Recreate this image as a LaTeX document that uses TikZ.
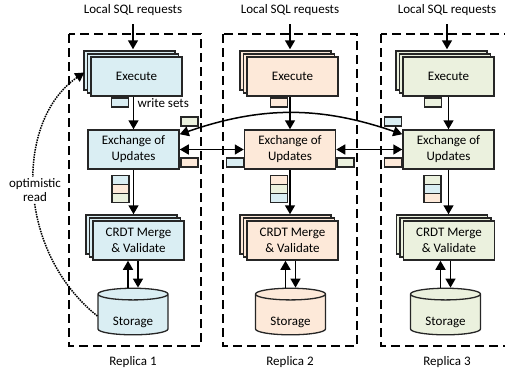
\documentclass[tikz,border=0pt]{standalone}
\usepackage{fontspec}
\setmainfont{Carlito}
\usetikzlibrary{arrows.meta,shapes.geometric,shadows,positioning}

\definecolor{repblue}{HTML}{DAEEF3}
\definecolor{reppeach}{HTML}{FDE9D9}
\definecolor{repgreen}{HTML}{EBF1DE}

\tikzset{
  lbl/.style={font=\fontsize{13}{16}\selectfont},
  box/.style={lbl, draw=black!85, line width=1.5pt, minimum width=91pt, minimum height=39pt, align=center, inner sep=2pt},
  stackbox/.style={box, copy shadow={shadow xshift=-7pt, shadow yshift=6pt}, copy shadow={shadow xshift=-3.5pt, shadow yshift=3pt}},
  store/.style={lbl, cylinder, shape border rotate=90, aspect=0.25, draw=black!85, line width=1.3pt, minimum width=70pt, minimum height=42pt},
  ws/.style={draw=black!85, line width=1.3pt, minimum width=17pt, minimum height=9pt, inner sep=0pt},
  frame/.style={line width=1.5pt, dash pattern=on 9pt off 5pt},
  flow/.style={->, line width=1.5pt},
}
\newcommand{\lowtext}[1]{\rule{0pt}{22pt}#1}

\begin{document}
\begin{tikzpicture}[x=1pt, y=-1pt, >={Triangle[length=9pt,width=10pt]}]
	\clip (0,0) rectangle (505,373);
	\draw[frame] (69,34) rectangle (201,346);
	\draw[frame] (223,34) rectangle (357,346);
	\draw[frame] (381,34) rectangle (520,346);

	% replica 1
	\node[lbl] (req1) at (133,10) {Local SQL requests};
	\node[stackbox, fill=repblue] (exec1) at (136.5,76.5) {Execute};
	\node[ws, fill=repblue] (ws1) at (120,102.5) {};
	\node[lbl, anchor=west] (wslbl) at (134,103) {write sets};
	\node[box, fill=repblue] (exch1) at (133.5,149.5) {Exchange of\\Updates};
	\node[ws, fill=repgreen] (in13) at (189.5,121.5) {};
	\node[ws, fill=reppeach] (in12) at (189.5,162.5) {};
	\node[ws, fill=repblue] (q1a) at (120.5,180) {};
	\node[ws, fill=reppeach, below=-1.3pt of q1a] (q1b) {};
	\node[ws, fill=repgreen, below=-1.3pt of q1b] (q1c) {};
	\node[stackbox, fill=repblue] (crdt1) at (138.5,240.5) {CRDT Merge\\\& Validate};
	\node[store, fill=repblue] (store1) at (133,316) {\lowtext{Storage}};
	\node[lbl] (rep1) at (133,362) {Replica 1};
	\coordinate (s1l) at ([xshift=-5pt]store1.north);
	\coordinate (s1r) at ([xshift=5pt]store1.north);
	\draw[flow, shorten <=5pt, shorten >=7pt] (req1.south) -- (req1.south |- exec1.north);
	\draw[flow] (exch1.north |- exec1.south) -- (exch1.north);
	\draw[flow, shorten >=6pt] (exch1.south) -- (exch1.south |- crdt1.north);
	\draw[flow] (s1l) -- (s1l |- crdt1.south);
	\draw[flow] (s1r |- crdt1.south) -- (s1r);

	% replica 2
	\node[lbl] (req2) at (290,10) {Local SQL requests};
	\node[stackbox, fill=reppeach] (exec2) at (292.5,76.5) {Execute};
	\node[ws, fill=reppeach] (ws2) at (279,102.5) {};
	\node[box, fill=reppeach] (exch2) at (290,149.5) {Exchange of\\Updates};
	\node[ws, fill=repblue] (in21) at (235,162.5) {};
	\node[ws, fill=repgreen] (in23) at (345.5,162.5) {};
	\node[ws, fill=reppeach] (q2a) at (279,180) {};
	\node[ws, fill=repgreen, below=-1.3pt of q2a] (q2b) {};
	\node[ws, fill=repblue, below=-1.3pt of q2b] (q2c) {};
	\node[stackbox, fill=reppeach] (crdt2) at (292.5,240.5) {CRDT Merge\\\& Validate};
	\node[store, fill=reppeach] (store2) at (290.5,316) {\lowtext{Storage}};
	\node[lbl] (rep2) at (290,362) {Replica 2};
	\coordinate (s2l) at ([xshift=-5pt]store2.north);
	\coordinate (s2r) at ([xshift=5pt]store2.north);
	\draw[flow, shorten <=5pt, shorten >=7pt] (req2.south) -- (req2.south |- exec2.north);
	\draw[flow] (exch2.north |- exec2.south) -- (exch2.north);
	\draw[flow, shorten >=6pt] (exch2.south) -- (exch2.south |- crdt2.north);
	\draw[flow] (s2l) -- (s2l |- crdt2.south);
	\draw[flow] (s2r |- crdt2.south) -- (s2r);

	% replica 3
	\node[lbl] (req3) at (447,10) {Local SQL requests};
	\node[stackbox, fill=repgreen] (exec3) at (448.5,76.5) {Execute};
	\node[ws, fill=repgreen] (ws3) at (433,102.5) {};
	\node[box, fill=repgreen] (exch3) at (448.5,149.5) {Exchange of\\Updates};
	\node[ws, fill=repblue] (in31) at (393,121.5) {};
	\node[ws, fill=reppeach] (in32) at (393,162.5) {};
	\node[ws, fill=repgreen] (q3a) at (432.5,180) {};
	\node[ws, fill=repblue, below=-1.3pt of q3a] (q3b) {};
	\node[ws, fill=reppeach, below=-1.3pt of q3b] (q3c) {};
	\node[stackbox, fill=repgreen] (crdt3) at (449,240.5) {CRDT Merge\\\& Validate};
	\node[store, fill=repgreen] (store3) at (445.5,316) {\lowtext{Storage}};
	\node[lbl] (rep3) at (447,362) {Replica 3};
	\coordinate (s3l) at ([xshift=-5pt]store3.north);
	\coordinate (s3r) at ([xshift=5pt]store3.north);
	\draw[flow, shorten <=5pt, shorten >=7pt] (req3.south) -- (req3.south |- exec3.north);
	\draw[flow] (exch3.north |- exec3.south) -- (exch3.north);
	\draw[flow, shorten >=6pt] (exch3.south) -- (exch3.south |- crdt3.north);
	\draw[flow] (s3l) -- (s3l |- crdt3.south);
	\draw[flow] (s3r |- crdt3.south) -- (s3r);

	% exchange between replicas
	\coordinate (e1top) at ([yshift=-5pt]exch1.north east);
	\coordinate (e3top) at ([yshift=-5pt]exch3.north west);
	\draw[<->, line width=1.5pt] (exch1) -- (exch2);
	\draw[<->, line width=1.5pt] (exch2) -- (exch3);
	\draw[<->, line width=1.5pt] (e1top) to[bend left=19] (e3top);

	% optimistic read
	\coordinate (ew1) at ([xshift=-6pt, yshift=4pt]exec1.west);
	\draw[flow, densely dotted] (store1.west) .. controls (15,250) and (15,120) .. (ew1);
	\node[lbl, fill=white, align=center, inner sep=1pt, font=\fontsize{13}{14}\selectfont] (optread) at (35,190) {optimistic\\read};
\end{tikzpicture}
\end{document}
